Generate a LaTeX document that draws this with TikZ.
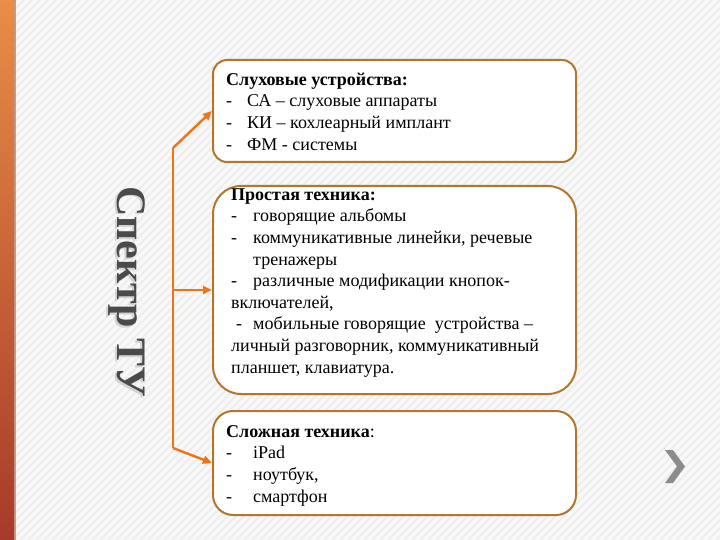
\documentclass[tikz,border=0pt]{standalone}
\usepackage{fontspec}
\setmainfont{Liberation Serif}
\usetikzlibrary{arrows.meta}
\definecolor{bgcol}{HTML}{F8F8F8}
\definecolor{stripecol}{HTML}{EEEEEE}
\definecolor{barTop}{HTML}{E98D47}
\definecolor{barMid}{HTML}{F07318}
\definecolor{barBot}{HTML}{A8392A}
\definecolor{barEdge}{HTML}{8C4A22}
\definecolor{boxline}{HTML}{B0782E}
\definecolor{conn}{HTML}{F0731A}
\definecolor{titlecol}{HTML}{4A4A4A}
\definecolor{chevcol}{HTML}{8C8C8C}
\newcommand\dsh[1]{\makebox[#1pt][l]{-}}
\tikzset{
  stripe/.style={draw=stripecol, line width=2pt},
  boxnode/.style={draw=boxline, line width=2pt, fill=white, minimum width=363pt, inner sep=0pt},
  txt/.style={anchor=north west, inner sep=0pt, align=left, text=black,
    font=\fontsize{18}{21.6}\selectfont},
  connector/.style={draw=conn, line width=2.4pt},
  arrowed/.style={connector, -{Triangle[length=9pt,width=8pt]}},
}
\begin{document}
\begin{tikzpicture}[x=1pt,y=-1pt]
\useasboundingbox (0,0) rectangle (720,540);
\fill[bgcol] (0,0) rectangle (720,540);
\begin{scope}
  \clip (0,0) rectangle (720,540);
  \foreach \k in {-540,-532,...,720} \draw[stripe] (\k,540) -- (\k+540,0);
\end{scope}
% left bar
\shade[top color=barTop, middle color=barMid, bottom color=barBot] (0,0) rectangle (14,540);
\fill[barEdge, opacity=0.5] (14,0) rectangle (16,540);

% vertical title
\node[rotate=-90, anchor=base, text=gray!35, font=\fontsize{42}{42}\selectfont\bfseries] (vtsh) at (115.5,293.5) {Спектр ТУ};
\node[rotate=-90, anchor=base, text=titlecol, font=\fontsize{42}{42}\selectfont\bfseries] (vt) at (117,292) {Спектр ТУ};

% boxes
\node[boxnode, rounded corners=14pt, minimum height=102pt] (b1) at (394.5,111) {};
\node[boxnode, rounded corners=28pt, minimum height=208pt] (b2) at (394.5,290) {};
\node[boxnode, rounded corners=20pt, minimum height=104pt] (b3) at (394.5,463) {};

% texts
\node[txt] (t1) at (226,70) {\strut\textbf{Слуховые устройства:}\\
\dsh{21}СА – слуховые аппараты\\
\dsh{21}КИ – кохлеарный имплант\\
\dsh{21}ФМ - системы};

\node[txt] (t2) at (231,185) {\strut\textbf{Простая техника:}\\
\dsh{22}говорящие альбомы\\
\dsh{22}коммуникативные линейки, речевые\\
\hspace*{22pt}тренажеры\\
\dsh{22}различные модификации кнопок-\\
включателей,\\
\hspace*{5pt}\dsh{17}мобильные говорящие\ \ устройства –\\
личный разговорник, коммуникативный\\
планшет, клавиатура.};

\node[txt] (t3) at (226,422) {\strut\textbf{Сложная техника}:\\
\dsh{27}iPad\\
\dsh{27}ноутбук,\\
\dsh{27}смартфон};

% connectors
\coordinate (j1) at (173,148);
\coordinate (j3) at (173,448);
\draw[connector] (j1) -- (j3);
\draw[arrowed] (j1) -- (b1.west);
\draw[arrowed] (j1 |- b2.west) -- (b2.west);
\draw[arrowed] (j3) -- (b3.west);

% chevron
\fill[chevcol] (665,450) -- (673,450) -- (685,466.5) -- (673,483) -- (665,483) -- (677,466.5) -- cycle;
\end{tikzpicture}
\end{document}
